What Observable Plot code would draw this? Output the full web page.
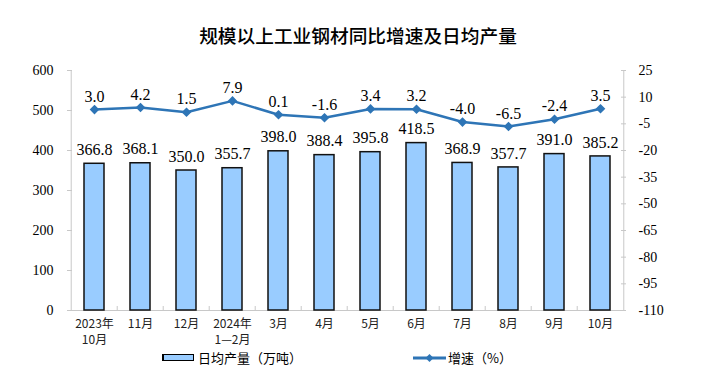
<!DOCTYPE html>
<html>
<head>
<meta charset="utf-8">
<script src="https://cdn.jsdelivr.net/npm/d3@7"></script>
<script src="https://cdn.jsdelivr.net/npm/@observablehq/plot@0.6"></script>
<style>
  html, body { margin: 0; padding: 0; background: #fff; }
  #wrap { position: relative; width: 724px; height: 380px; overflow: hidden; }
  #title { position: absolute; left: 0; width: 716px; top: 22px; text-align: center;
    font-family: "Noto Sans CJK SC", sans-serif; font-size: 18.7px; font-weight: 500; color: #000; line-height: 26px; }
  .leg { position: absolute; top: 351px; font-family: "Noto Sans CJK SC", sans-serif; font-size: 13px; color: #000; line-height: 13px; height: 13px; display: flex; align-items: center; }
  #chart { position: absolute; left: 0; top: 0; }
</style>
</head>
<body>
<div id="wrap">
  <div id="chart"></div>
  <div id="title">规模以上工业钢材同比增速及日均产量</div>
  <div class="leg" style="left:162px;">
    <span style="display:inline-block;width:29px;height:5px;background:#99CCFF;border:1px solid #000;border-left-width:2px;margin-right:4px;"></span>日均产量（万吨）
  </div>
  <div class="leg" style="left:413px;">
    <svg width="33" height="10" style="margin-right:2px;"><line x1="0" y1="5" x2="33" y2="5" stroke="#2E75B6" stroke-width="3"/><path d="M16.5,1 L20.5,5 L16.5,9 L12.5,5Z" fill="#2E75B6"/></svg>增速（%）
  </div>
</div>
<script>
const categories = ["2023年\n10月", "11月", "12月", "2024年\n1—2月", "3月", "4月", "5月", "6月", "7月", "8月", "9月", "10月"];
const dailyOutput = [366.8, 368.1, 350.0, 355.7, 398.0, 388.4, 395.8, 418.5, 368.9, 357.7, 391.0, 385.2];
const growth = [3.0, 4.2, 1.5, 7.9, 0.1, -1.6, 3.4, 3.2, -4.0, -6.5, -2.4, 3.5];
const leftTicks = [0, 100, 200, 300, 400, 500, 600];
const rightTicks = [25, 10, -5, -20, -35, -50, -65, -80, -95, -110];

const W = 724, H = 380, mL = 67, mR = 98, mT = 70, mB = 70;
const plotW = W - mL - mR;
const step = plotW / categories.length;
const rMin = -110, rMax = 25;
const toLeft = g => (g - rMin) * 600 / (rMax - rMin);
const fromLeft = v => Math.round(v * (rMax - rMin) / 600 + rMin);

const rows = categories.map((c, i) => ({cat: c, v: dailyOutput[i], g: growth[i], gy: toLeft(growth[i])}));

const serif = "'Liberation Serif', 'Times New Roman', serif";
const cjk = "'Noto Sans CJK SC', sans-serif";
const grey = "#c8c8c8";
const blue = "#2E75B6";

const chart = Plot.plot({
  width: W, height: H,
  marginLeft: mL, marginRight: mR, marginTop: mT, marginBottom: mB,
  x: {domain: categories, paddingInner: 0.57, paddingOuter: 0.285, label: null},
  y: {domain: [0, 600], label: null},
  marks: [
    Plot.ruleX([categories[0]], {x: d => d, dx: -step / 2, y1: 0, y2: 600, stroke: grey}),
    Plot.ruleX([categories[categories.length - 1]], {x: d => d, dx: step / 2, y1: 0, y2: 600, stroke: grey}),
    Plot.ruleY([0], {stroke: grey}),
    Plot.ruleX(categories.slice(1), {x: d => d, dx: -step / 2, y1: 0, y2: 10, stroke: grey}),
    Plot.ruleY(leftTicks, {y: d => d, insetRight: plotW - 5, stroke: grey}),
    Plot.ruleY(rightTicks.map(toLeft), {y: d => d, insetLeft: plotW - 5, stroke: grey}),
    Plot.axisY(leftTicks, {anchor: "left", tickSize: 0, tickPadding: 14, fontFamily: serif, fontSize: 14, fill: "#000"}),
    Plot.axisY(rightTicks.map(toLeft), {anchor: "right", tickSize: 0, tickPadding: 12, tickFormat: fromLeft, fontFamily: serif, fontSize: 14, fill: "#000"}),
    Plot.axisX({anchor: "bottom", tickSize: 0, tickPadding: 6, fontFamily: cjk, fontSize: 12, lineHeight: 1.36, fill: "#222"}),
    Plot.barY(rows, {x: "cat", y: "v", fill: "#99CCFF", stroke: "#111", strokeWidth: 1.5}),
    Plot.text(rows, {x: "cat", y: "v", text: d => d.v.toFixed(1), dy: -14, fontFamily: serif, fontSize: 16, fill: "#000"}),
    Plot.line(rows, {x: "cat", y: "gy", stroke: blue, strokeWidth: 2.5}),
    Plot.dot(rows, {x: "cat", y: "gy", symbol: "diamond2", r: 3.4, fill: blue, stroke: blue}),
    Plot.text(rows, {x: "cat", y: "gy", text: d => d.g.toFixed(1), dy: -13, fontFamily: serif, fontSize: 16, fill: "#000"})
  ]
});
document.getElementById("chart").appendChild(chart);
</script>
</body>
</html>
